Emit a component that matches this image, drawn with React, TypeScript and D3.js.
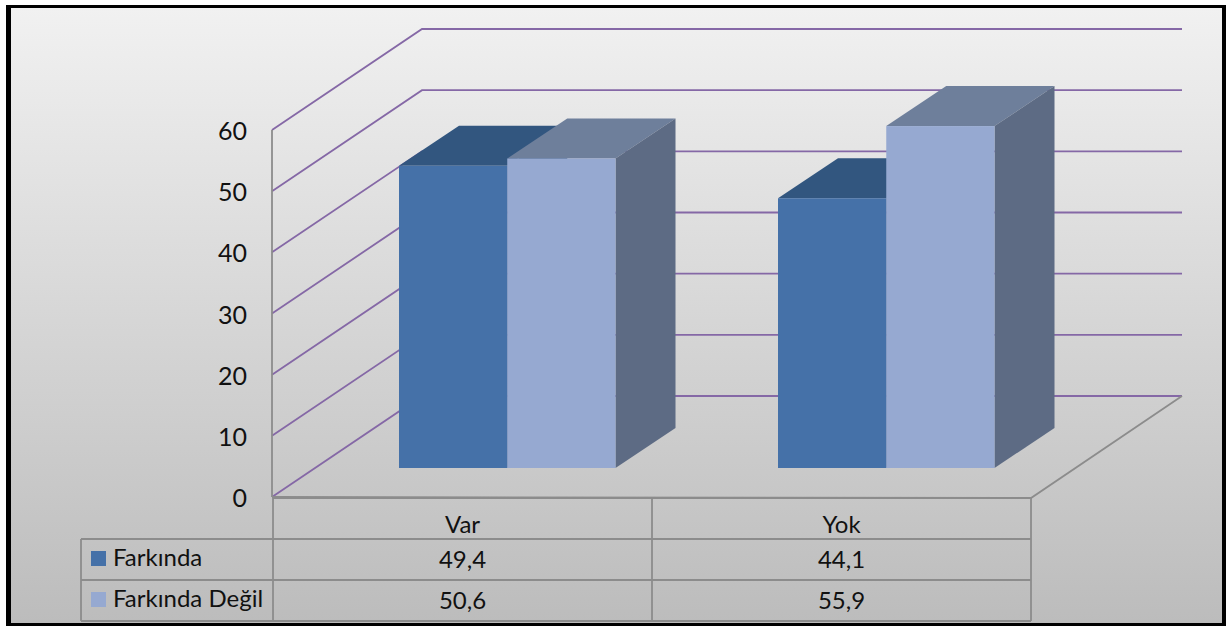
import React from "react";
import * as d3 from "d3";

const categories = ["Var", "Yok"];
const seriesNames = ["Farkında", "Farkında Değil"];
const farkinda = [49.4, 44.1];
const farkindaDegil = [50.6, 55.9];
const valueLabels = [["49,4", "44,1"], ["50,6", "55,9"]];
const yTicks = [0, 10, 20, 30, 40, 50, 60];

const fills = [
  { front: "#4571a8", top: "#32567f", side: "#32567f" },
  { front: "#96a9d1", top: "#6e7f9b", side: "#5d6b84" },
];
const FONT = "Lato, sans-serif";
const GRID = "#8568a6";
const AXIS = "#8c8c8c";

const x0 = 273;
const x1 = 1031;
const yBase = 497;
const yTop = 130;
const depthX = 150;
const depthY = 101;
const barDX = 60;
const barDY = 40;
const barBaseY = 468;
const barInset = 126;
const barSpan = 216.5;
const rows = [498, 539, 580, 621];
const legendLeft = 81;

const y = d3.scaleLinear().domain([0, 60]).range([yBase, yTop]);
const xCat = d3.scaleBand<string>().domain(categories).range([x0, x1]);
const xSeries = d3.scaleBand<string>().domain(seriesNames).range([0, barSpan]);

function Box({ x, w, top, color }: { x: number; w: number; top: number; color: { front: string; top: string; side: string } }) {
  const pts = (a: [number, number][]) => a.map((p) => p.join(",")).join(" ");
  return (
    <g>
      <polygon
        points={pts([[x, top], [x + barDX, top - barDY], [x + w + barDX, top - barDY], [x + w, top]])}
        fill={color.top}
      />
      <polygon
        points={pts([[x + w, top], [x + w + barDX, top - barDY], [x + w + barDX, barBaseY - barDY], [x + w, barBaseY]])}
        fill={color.side}
      />
      <rect x={x} y={top} width={w} height={barBaseY - top} fill={color.front} />
    </g>
  );
}

export default function App() {
  const data = [farkinda, farkindaDegil];
  const base = { fontFamily: FONT, fill: "#111" };
  const colCenters = categories.map((c) => xCat(c)! + xCat.bandwidth() / 2);
  return (
    <svg
      width={1226}
      height={626}
      style={{ position: "absolute", left: 0, top: 0, display: "block" }}
    >
      <defs>
        <linearGradient id="bg" x1="0" y1="0" x2="0" y2="1">
          <stop offset="0" stopColor="#f1f1f1" />
          <stop offset="1" stopColor="#bcbcbc" />
        </linearGradient>
      </defs>
      <rect width={1226} height={626} fill="#fff" />
      <rect x={6} y={5} width={1220} height={621} fill="#000" />
      <rect x={11} y={8} width={1211} height={615} fill="url(#bg)" />

      {yTicks.map((t) => {
        const yy = y(t);
        return (
          <g key={t}>
            <polyline
              points={`${x0 - 1},${yy} ${x0 - 1 + depthX},${yy - depthY} ${x1 + depthX + 1},${yy - depthY}`}
              fill="none"
              stroke={GRID}
              strokeWidth={1.8}
            />
            <text x={247} y={yy + 10} textAnchor="end" fontSize={25} {...base}>
              {t}
            </text>
          </g>
        );
      })}
      <line x1={x0 - 1} x2={x0 - 1} y1={yTop} y2={yBase} stroke={AXIS} strokeWidth={1.8} />
      <polyline
        points={`${x0 - 1},${yBase} ${x1},${rows[0]} ${x1 + depthX + 1},${yBase - depthY}`}
        fill="none"
        stroke={AXIS}
        strokeWidth={1.8}
      />

      {categories.map((c, ci) =>
        seriesNames.map((s, si) => (
          <Box
            key={c + s}
            x={xCat(c)! + barInset + xSeries(s)!}
            w={xSeries.bandwidth()}
            top={barBaseY - (yBase - y(data[si][ci]))}
            color={fills[si]}
          />
        ))
      )}

      <g stroke={AXIS} strokeWidth={1.8} fill="none">
        {rows.map((r, i) => (
          <line key={r} x1={i === 0 ? x0 : legendLeft} x2={x1} y1={r} y2={r} />
        ))}
        <line x1={legendLeft} x2={legendLeft} y1={rows[1]} y2={rows[3]} />
        <line x1={x0} x2={x0} y1={rows[0]} y2={rows[3]} />
        <line x1={xCat("Yok")} x2={xCat("Yok")} y1={rows[0]} y2={rows[3]} />
        <line x1={x1} x2={x1} y1={rows[0]} y2={rows[3]} />
      </g>

      {categories.map((c, i) => (
        <text key={c} x={colCenters[i]} y={533} textAnchor="middle" fontSize={24} {...base}>
          {c}
        </text>
      ))}
      {seriesNames.map((s, si) => (
        <g key={s}>
          <rect x={91} y={rows[si + 1] + 12} width={15} height={15} fill={fills[si].front} />
          <text x={113} y={rows[si + 1] + 27} fontSize={24} {...base}>
            {s}
          </text>
          {categories.map((c, ci) => (
            <text key={c} x={colCenters[ci]} y={rows[si + 1] + 29} textAnchor="middle" fontSize={24} {...base}>
              {valueLabels[si][ci]}
            </text>
          ))}
        </g>
      ))}
    </svg>
  );
}
